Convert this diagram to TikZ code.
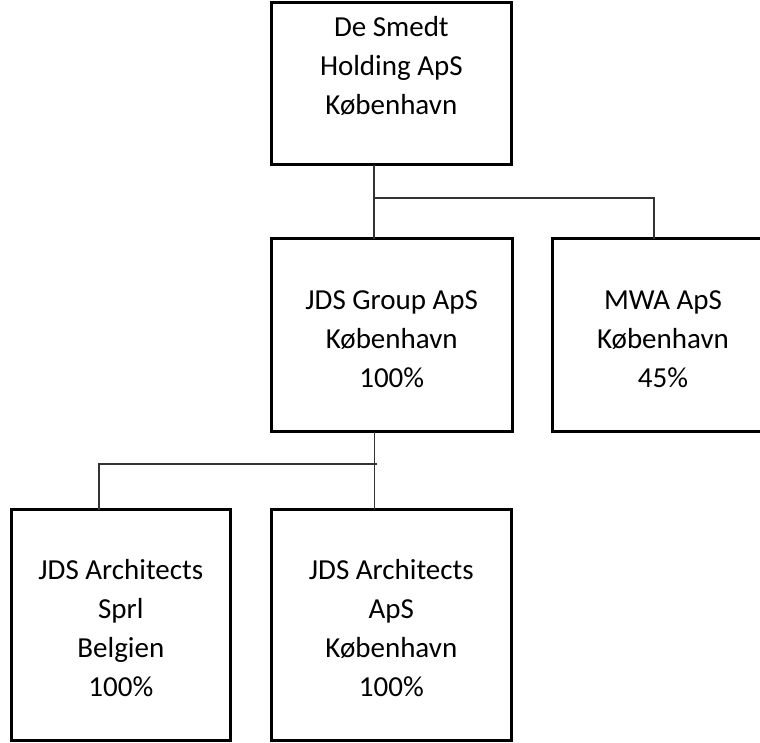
\documentclass[tikz,border=0pt]{standalone}
\usepackage{fontspec}
\setmainfont{Carlito}
\newcommand\tg[1]{\rule{0pt}{#1}}
\begin{document}
\begin{tikzpicture}[x=1pt,y=-1pt,
  box/.style={draw=black, line width=3pt, inner sep=0pt, outer sep=0pt, align=center,
    font=\fontsize{29}{39}\selectfont},
  conn/.style={draw=black!80, line width=1.8pt}]
\fill[white] (0,0) rectangle (760,742);
\useasboundingbox (0,0) rectangle (760,742);
\clip (0,0) rectangle (760,742);
\node[box, minimum width=240.7pt, minimum height=154.3pt] (top) at (391.35,83.85)
  {\tg{33.3pt}De Smedt\\\strut Holding ApS\\\strut København\\\strut};
\node[box, minimum width=241.5pt, minimum height=193pt] (grp) at (391.75,335.2)
  {\tg{39pt}JDS Group ApS\\\strut København\\\strut 100\%};
\node[box, minimum width=221.4pt, minimum height=192.6pt] (mwa) at (663,335)
  {\tg{39pt}MWA ApS\\\strut København\\\strut 45\%};
\node[box, minimum width=218.3pt, minimum height=230.6pt] (sprl) at (120.85,625)
  {\tg{37pt}JDS Architects\\\strut Sprl\\\strut Belgien\\\strut 100\%};
\node[box, minimum width=240.7pt, minimum height=230.6pt] (aps) at (391.35,625)
  {\tg{37pt}JDS Architects\\\strut ApS\\\strut København\\\strut 100\%};
\coordinate (j1) at (374,198);
\coordinate (j2) at (654,198);
\coordinate (k1) at (374.5,464);
\coordinate (k0) at (98.7,464);
\coordinate (k2) at (377,464);
\draw[conn] (top.south -| j1) -- (grp.north -| j1);
\draw[conn] (j1) -- (j2) -- (j2 |- mwa.north);
\draw[conn] (grp.south -| k1) -- (aps.north -| k1);
\draw[conn] (k2) -- (k0) -- (k0 |- sprl.north);
\end{tikzpicture}
\end{document}
